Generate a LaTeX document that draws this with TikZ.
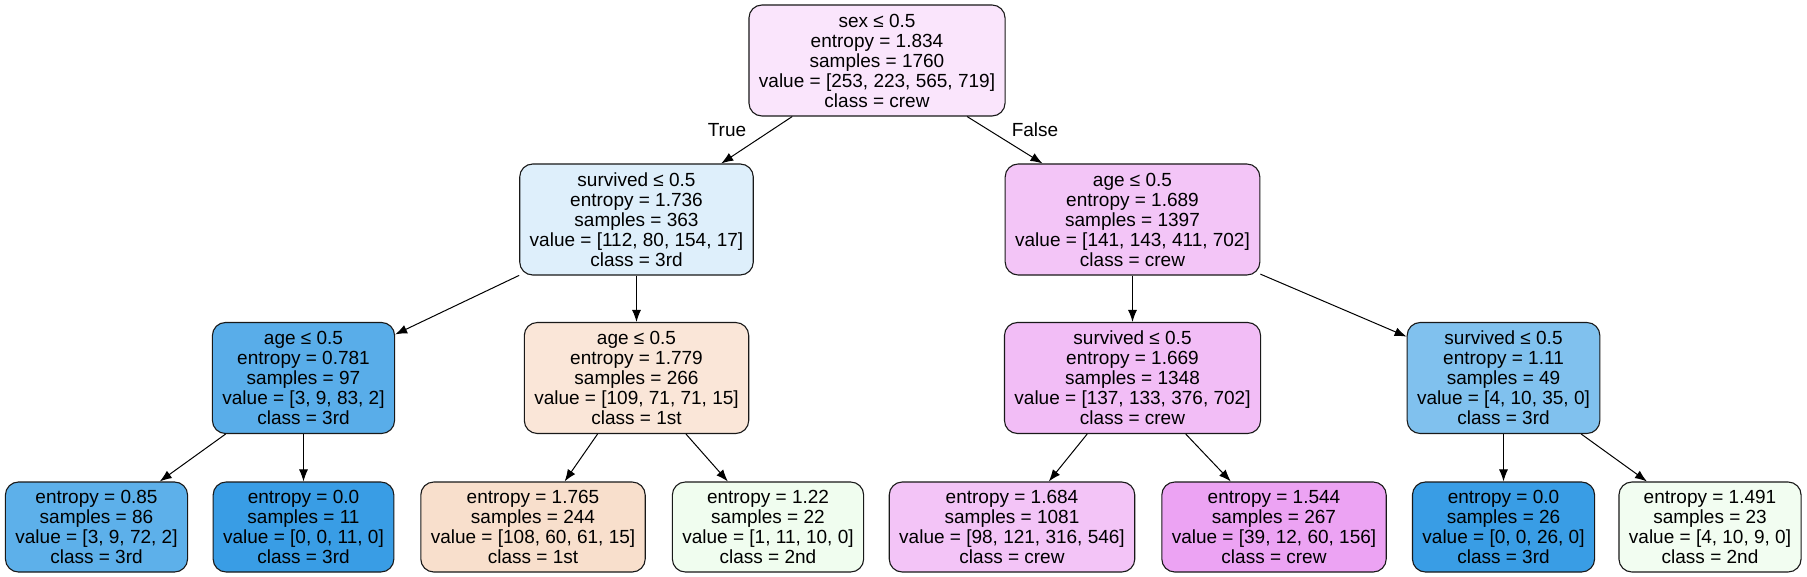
\documentclass[tikz,border=0pt]{standalone}
\usepackage{fontspec}
\setmainfont{Liberation Sans}
\usepackage{tikz}
\usetikzlibrary{arrows.meta}
\definecolor{csex}{RGB}{250,229,252}
\definecolor{csurv}{RGB}{222,239,251}
\definecolor{cage}{RGB}{243,197,247}
\definecolor{cagel}{RGB}{89,173,233}
\definecolor{cages}{RGB}{250,230,216}
\definecolor{csurvc}{RGB}{242,189,246}
\definecolor{csurvr}{RGB}{128,193,238}
\definecolor{cla}{RGB}{93,176,234}
\definecolor{clb}{RGB}{57,157,229}
\definecolor{clc}{RGB}{248,223,204}
\definecolor{cld}{RGB}{240,253,239}
\definecolor{cle}{RGB}{243,196,247}
\definecolor{clf}{RGB}{236,163,243}
\definecolor{clg}{RGB}{57,157,229}
\definecolor{clh}{RGB}{242,253,241}

\begin{document}
\begin{tikzpicture}[x=0.5pt,y=-0.5pt,inner sep=0pt,font=\fontsize{9.5}{10}\selectfont]
\tikzstyle{main}=[rectangle, rounded corners=6.5pt, draw=black!90, line width=0.55pt, align=center, inner xsep=5pt]
\tikzstyle{split}=[main, minimum height=55.5pt]
\tikzstyle{leaf}=[main, minimum height=45pt]
\tikzstyle{connect}=[-{Latex[length=6pt,width=4.5pt]}, line width=0.5pt]
\fill[white] (0,0) rectangle (1807,577);
\node[split,fill=csex] (sex) at (877,60.5) {sex ≤ 0.5\\entropy = 1.834\\samples = 1760\\value = [253, 223, 565, 719]\\class = crew};
\node[split,fill=csurv] (surv) at (636.5,219.5) {survived ≤ 0.5\\entropy = 1.736\\samples = 363\\value = [112, 80, 154, 17]\\class = 3rd};
\node[split,fill=cage] (age) at (1132.5,219.5) {age ≤ 0.5\\entropy = 1.689\\samples = 1397\\value = [141, 143, 411, 702]\\class = crew};
\node[split,fill=cagel] (agel) at (303.5,378) {age ≤ 0.5\\entropy = 0.781\\samples = 97\\value = [3, 9, 83, 2]\\class = 3rd};
\node[split,fill=cages] (ages) at (636.5,378) {age ≤ 0.5\\entropy = 1.779\\samples = 266\\value = [109, 71, 71, 15]\\class = 1st};
\node[split,fill=csurvc] (survc) at (1132.5,378) {survived ≤ 0.5\\entropy = 1.669\\samples = 1348\\value = [137, 133, 376, 702]\\class = crew};
\node[split,fill=csurvr] (survr) at (1503.5,378) {survived ≤ 0.5\\entropy = 1.11\\samples = 49\\value = [4, 10, 35, 0]\\class = 3rd};
\node[leaf,fill=cla] (la) at (96.5,527) {entropy = 0.85\\samples = 86\\value = [3, 9, 72, 2]\\class = 3rd};
\node[leaf,fill=clb] (lb) at (303.5,527) {entropy = 0.0\\samples = 11\\value = [0, 0, 11, 0]\\class = 3rd};
\node[leaf,fill=clc] (lc) at (533,527) {entropy = 1.765\\samples = 244\\value = [108, 60, 61, 15]\\class = 1st};
\node[leaf,fill=cld] (ld) at (768,527) {entropy = 1.22\\samples = 22\\value = [1, 11, 10, 0]\\class = 2nd};
\node[leaf,fill=cle] (le) at (1012,527) {entropy = 1.684\\samples = 1081\\value = [98, 121, 316, 546]\\class = crew};
\node[leaf,fill=clf] (lf) at (1274,527) {entropy = 1.544\\samples = 267\\value = [39, 12, 60, 156]\\class = crew};
\node[leaf,fill=clg] (lg) at (1503.5,527) {entropy = 0.0\\samples = 26\\value = [0, 0, 26, 0]\\class = 3rd};
\node[leaf,fill=clh] (lh) at (1710,527) {entropy = 1.491\\samples = 23\\value = [4, 10, 9, 0]\\class = 2nd};
\node (true) at (727,130) {True};
\node (false) at (1035,130) {False};
\path (sex) edge[connect] (surv) edge[connect] (age);
\path (surv) edge[connect] (agel) edge[connect] (ages);
\path (age) edge[connect] (survc) edge[connect] (survr);
\path (agel) edge[connect] (la) edge[connect] (lb);
\path (ages) edge[connect] (lc) edge[connect] (ld);
\path (survc) edge[connect] (le) edge[connect] (lf);
\path (survr) edge[connect] (lg) edge[connect] (lh);
\end{tikzpicture}
\end{document}
